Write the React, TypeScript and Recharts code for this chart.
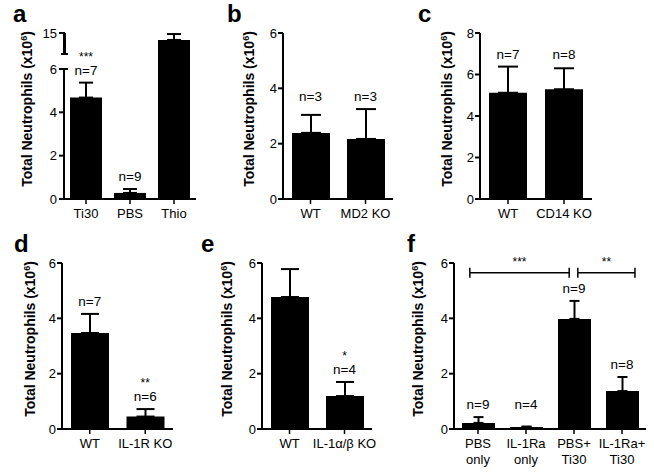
import React from "react";
import { ComposedChart, Bar, Line, XAxis, YAxis, ErrorBar, ReferenceLine } from "recharts";

const FONT = "'Liberation Sans', Arial, Helvetica, sans-serif";

// a: Ti30 / PBS / Thio, y axis broken between 6 and 10
const aGroups = ["Ti30", "PBS", "Thio"];
const aMeans = [4.68, 0.28, 13.35];
const aSems = [0.69, 0.18, 1.4];
const aN = ["n=7", "n=9", "n=4"];
const aStars = ["***", "", ""];
const aTicks = [0, 2, 4, 6, 10, 15];

// b: MD2
const bGroups = ["WT", "MD2 KO"];
const bMeans = [2.39, 2.17];
const bSems = [0.65, 1.08];
const bN = ["n=3", "n=3"];
const bTicks = [0, 2, 4, 6];

// c: CD14
const cGroups = ["WT", "CD14 KO"];
const cMeans = [5.12, 5.29];
const cSems = [1.26, 1.01];
const cN = ["n=7", "n=8"];
const cTicks = [0, 2, 4, 6, 8];

// d: IL-1R
const dGroups = ["WT", "IL-1R KO"];
const dMeans = [3.47, 0.45];
const dSems = [0.69, 0.27];
const dN = ["n=7", "n=6"];
const dStars = ["", "**"];

// e: IL-1a/b
const eGroups = ["WT", "IL-1α/β KO"];
const eMeans = [4.77, 1.19];
const eSems = [1.01, 0.51];
const eN = ["n=5", "n=4"];
const eStars = ["", "*"];

// f: IL-1Ra treatment
const fGroups = ["PBS\nonly", "IL-1Ra\nonly", "PBS+\nTi30", "IL-1Ra+\nTi30"];
const fMeans = [0.22, 0.07, 3.98, 1.37];
const fSems = [0.21, 0.02, 0.65, 0.51];
const fN = ["n=9", "n=4", "n=9", "n=8"];
const fBrackets = [
  { from: 0.33, to: 2.4, stars: "***" },
  { from: 2.58, to: 3.77, stars: "**" },
];
const fBracketAt = 5.65;

const lowTicks = [0, 2, 4, 6];

// broken axis mapping for panel a
const BREAK_LOW = 6;
const BREAK_HIGH = 10;
const BREAK_TOP = 15;
const BREAK_AT = 6.69;
const UPPER_K = 0.194;
const breakScale = (v: number) => (v <= BREAK_LOW ? v : BREAK_AT + (v - BREAK_HIGH) * UPPER_K);
const breakInvert = (t: number) => (t <= BREAK_LOW + 1e-6 ? t : BREAK_HIGH + (t - BREAK_AT) / UPPER_K);

const noStars = (g: string[]) => g.map(() => "");

const makeRows = (
  groups: string[],
  means: number[],
  sems: number[],
  ns: string[],
  stars: string[],
  floor = 0,
  tf = (v: number) => v
) =>
  groups.map((name, i) => {
    const v = tf(means[i]);
    const top = tf(means[i] + sems[i]);
    return { name, value: v, err: [0, top - v], anchor: Math.max(top, tf(floor)), n: ns[i], stars: stars[i] };
  });

const YW = 30;

type Layout = {
  left: number; top: number; w: number; h: number;
  x0: number; x1: number; y0: number; y1: number; xh: number; labelDx: number;
};

const LAYOUT: Record<string, Layout> = {
  a: { left: 0, top: 0, w: 205, h: 232, x0: 64, x1: 196, y0: 33, y1: 199, xh: 30, labelDx: 37 },
  b: { left: 205, top: 0, w: 200, h: 232, x0: 283, x1: 393, y0: 33, y1: 199, xh: 30, labelDx: 34 },
  c: { left: 420, top: 0, w: 234, h: 232, x0: 480, x1: 592, y0: 33, y1: 199, xh: 30, labelDx: 33 },
  d: { left: 0, top: 232, w: 200, h: 240, x0: 62, x1: 173, y0: 263, y1: 429, xh: 40, labelDx: 32 },
  e: { left: 200, top: 232, w: 205, h: 240, x0: 262, x1: 372, y0: 263, y1: 429, xh: 40, labelDx: 35 },
  f: { left: 410, top: 232, w: 244, h: 240, x0: 454, x1: 646, y0: 263, y1: 429, xh: 40, labelDx: 36 },
};

const CAPS: Record<number, number[]> = { 6: [5, 4], 10: [3, 4], 15: [5, 1] };

const CatTick = (props: any) => {
  const { x, y, payload } = props;
  const lines = String(payload.value).split("\n");
  return (
    <text x={x} y={y} textAnchor="middle" fontSize={13} fontFamily={FONT} fill="#000">
      {lines.map((s, i) => (
        <tspan key={i} x={x} dy={i === 0 ? 11.5 : 16}>
          {s}
        </tspan>
      ))}
    </text>
  );
};

// tick labels for the broken axis (the label at 10 is left out)
const BrokenTick = (props: any) => {
  const real = Math.round(breakInvert(Number(props.payload.value)));
  if (real === BREAK_HIGH) return <g />;
  return (
    <text x={props.x} y={props.y} dy="0.35em" textAnchor="end" fontSize={13} fontFamily={FONT} fill="#000">
      {real}
    </text>
  );
};

// the two pieces of the broken axis in panel a, with their caps
const BrokenAxis = ({ L }: { L: Layout }) => {
  const ppu = (L.y1 - L.y0) / breakScale(BREAK_TOP);
  const yOf = (v: number) => L.y1 - breakScale(v) * ppu;
  const ax = L.x0;
  return (
    <g stroke="#000">
      <line x1={ax} x2={ax} y1={yOf(0) + 1} y2={yOf(BREAK_LOW)} strokeWidth={2} />
      <line x1={ax + 0.5} x2={ax + 0.5} y1={yOf(BREAK_HIGH)} y2={yOf(BREAK_TOP)} strokeWidth={3} />
      {aTicks.map((v) => {
        const [l, r] = CAPS[v] ?? [5, 0];
        return <line key={v} x1={ax - l} x2={ax + r} y1={yOf(v)} y2={yOf(v)} strokeWidth={2} />;
      })}
    </g>
  );
};

const NDot = (props: any) => {
  const { cx, cy, payload, index } = props;
  return (
    <g key={`n-${index}`}>
      {payload.stars ? (
        <text x={cx} y={cy - 22} textAnchor="middle" fontSize={12} fontFamily={FONT} fill="#000">
          {payload.stars}
        </text>
      ) : null}
      <text x={cx} y={cy - 8} textAnchor="middle" fontSize={13.5} fontFamily={FONT} fill="#000">
        {payload.n}
      </text>
    </g>
  );
};

function Panel({ L, rows, domain, ticks, barSize, capHalf, extras = [], broken = false }: any) {
  const margin = {
    top: L.y0 - L.top,
    bottom: L.top + L.h - L.y1 - L.xh,
    left: L.x0 - L.left - YW,
    right: L.left + L.w - L.x1,
  };
  return (
    <div style={{ position: "absolute", left: L.left, top: L.top }}>
      <ComposedChart width={L.w} height={L.h} data={rows} margin={margin}>
        <XAxis
          dataKey="name"
          interval={0}
          height={L.xh}
          tick={CatTick}
          tickSize={5}
          tickMargin={2}
          tickLine={{ stroke: "#000", strokeWidth: 1.5 }}
          axisLine={{ stroke: "#000", strokeWidth: 2 }}
        />
        {/* plain index axis (0..n) for annotations that sit between categories */}
        <XAxis xAxisId="idx" dataKey="noValue" type="number" domain={[0, rows.length]} hide allowDataOverflow />
        {broken ? (
          <YAxis
            width={YW}
            domain={domain}
            ticks={ticks}
            interval={0}
            allowDataOverflow
            tick={BrokenTick}
            tickLine={false}
            tickSize={5}
            tickMargin={2}
            axisLine={false}
          />
        ) : (
          <YAxis
            width={YW}
            domain={domain}
            ticks={ticks}
            interval={0}
            allowDataOverflow
            tick={{ fill: "#000", fontSize: 13, fontFamily: FONT }}
            tickLine={{ stroke: "#000", strokeWidth: 2 }}
            tickSize={5}
            tickMargin={1}
            axisLine={{ stroke: "#000", strokeWidth: 2 }}
          />
        )}
        <Bar dataKey="value" fill="#000" barSize={barSize} isAnimationActive={false}>
          <ErrorBar dataKey="err" width={capHalf} strokeWidth={2} stroke="#000" direction="y" isAnimationActive={false} />
        </Bar>
        <Line
          dataKey="anchor"
          stroke="none"
          fill="none"
          dot={NDot}
          activeDot={false}
          legendType="none"
          isAnimationActive={false}
        />
        {extras}
      </ComposedChart>
    </div>
  );
}

const YLabel = ({ L }: { L: Layout }) => {
  const cx = L.x0 - L.labelDx;
  const cy = (L.y0 + L.y1) / 2 - 7;
  return (
    <text
      x={cx}
      y={cy}
      dy="0.36em"
      transform={`rotate(-90, ${cx}, ${cy})`}
      textAnchor="middle"
      fontSize={14}
      fontWeight="bold"
      fontFamily={FONT}
      fill="#000"
    >
      Total Neutrophils (x10
      <tspan fontSize={9} dy="-0.55em">6</tspan>
      <tspan dy="0.35em">)</tspan>
    </text>
  );
};

const letters = [
  { t: "a", x: 13, y: 22 },
  { t: "b", x: 227, y: 22 },
  { t: "c", x: 418, y: 22 },
  { t: "d", x: 14, y: 252 },
  { t: "e", x: 201, y: 252 },
  { t: "f", x: 407, y: 252 },
];

export default function App() {
  const aRows = makeRows(aGroups, aMeans, aSems, aN, aStars, 0, breakScale);
  const bRows = makeRows(bGroups, bMeans, bSems, bN, noStars(bGroups), 3.25);
  const cRows = makeRows(cGroups, cMeans, cSems, cN, noStars(cGroups), 6.38);
  const dRows = makeRows(dGroups, dMeans, dSems, dN, dStars);
  const eRows = makeRows(eGroups, eMeans, eSems, eN, eStars);
  const fRows = makeRows(fGroups, fMeans, fSems, fN, noStars(fGroups), 0.43);

  const fMarks = fBrackets.flatMap((b, i) => [
    <ReferenceLine
      key={`bl${i}`}
      xAxisId="idx"
      segment={[{ x: b.from, y: fBracketAt }, { x: b.to, y: fBracketAt }]}
      stroke="#000"
      strokeWidth={1.5}
      ifOverflow="visible"
      label={{ value: b.stars, position: "top", offset: 7, fontSize: 12, fill: "#000", fontFamily: FONT }}
    />,
    <ReferenceLine
      key={`bs${i}`}
      xAxisId="idx"
      segment={[{ x: b.from, y: fBracketAt - 0.18 }, { x: b.from, y: fBracketAt + 0.18 }]}
      stroke="#000"
      strokeWidth={1.5}
      ifOverflow="visible"
    />,
    <ReferenceLine
      key={`be${i}`}
      xAxisId="idx"
      segment={[{ x: b.to, y: fBracketAt - 0.18 }, { x: b.to, y: fBracketAt + 0.18 }]}
      stroke="#000"
      strokeWidth={1.5}
      ifOverflow="visible"
    />,
  ]);

  return (
    <div
      style={{
        position: "absolute",
        left: 0,
        top: 0,
        width: 654,
        height: 472,
        background: "#fff",
        fontFamily: FONT,
      }}
    >
      <Panel
        L={LAYOUT.a}
        rows={aRows}
        domain={[0, breakScale(BREAK_TOP)]}
        ticks={aTicks.map(breakScale)}
        barSize={32}
        capHalf={7}
        broken
      />
      <Panel L={LAYOUT.b} rows={bRows} domain={[0, 6]} ticks={bTicks} barSize={38} capHalf={10} />
      <Panel L={LAYOUT.c} rows={cRows} domain={[0, 8]} ticks={cTicks} barSize={38} capHalf={10} />
      <Panel L={LAYOUT.d} rows={dRows} domain={[0, 6]} ticks={lowTicks} barSize={38} capHalf={9} />
      <Panel L={LAYOUT.e} rows={eRows} domain={[0, 6]} ticks={lowTicks} barSize={38} capHalf={9} />
      <Panel L={LAYOUT.f} rows={fRows} domain={[0, 6]} ticks={lowTicks} barSize={33} capHalf={5} extras={fMarks} />
      <svg
        width={654}
        height={472}
        style={{ position: "absolute", left: 0, top: 0, pointerEvents: "none" }}
      >
        <BrokenAxis L={LAYOUT.a} />
        {Object.keys(LAYOUT).map((k) => (
          <YLabel key={k} L={LAYOUT[k]} />
        ))}
        {letters.map((l) => (
          <text key={l.t} x={l.x} y={l.y} fontSize={24} fontWeight="bold" fontFamily={FONT} fill="#000">
            {l.t}
          </text>
        ))}
      </svg>
    </div>
  );
}
